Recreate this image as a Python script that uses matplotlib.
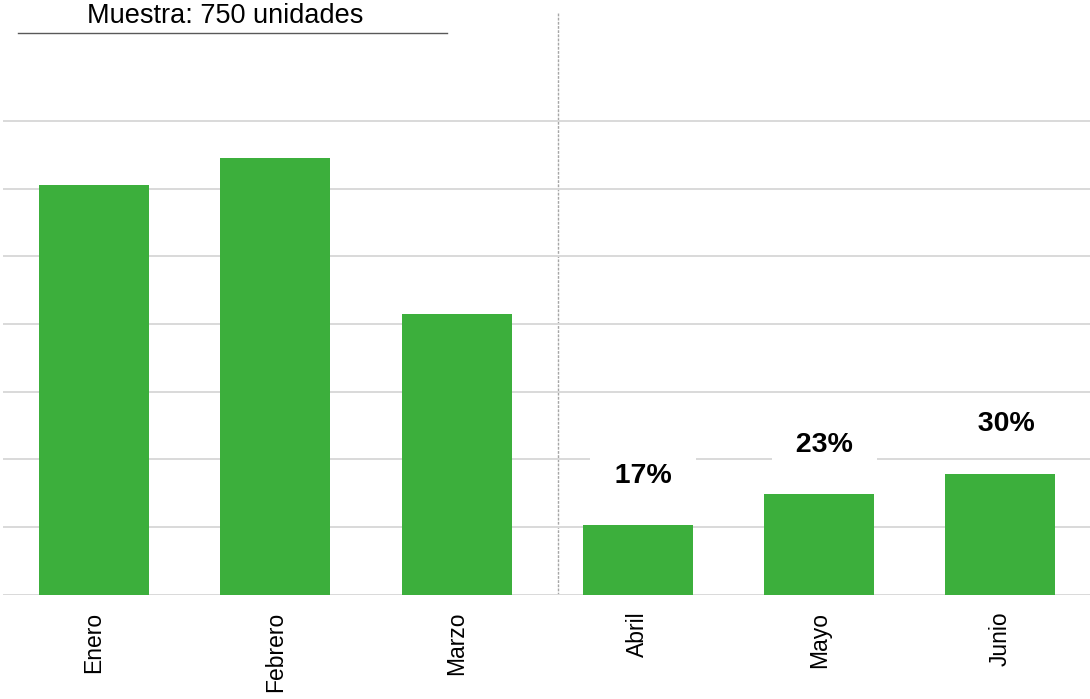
import numpy as np
import matplotlib
matplotlib.use("Agg")
import matplotlib.pyplot as plt

plt.rcParams["font.family"] = ["Liberation Sans", "DejaVu Sans"]

meses = ["Enero", "Febrero", "Marzo", "Abril", "Mayo", "Junio"]
valores = [60.6, 64.5, 41.5, 10.3, 14.9, 17.9]
etiquetas = {3: "17%", 4: "23%", 5: "30%"}
titulo = "Muestra: 750 unidades"

verde = "#3caf3c"

fig = plt.figure(figsize=(10.9, 6.99), dpi=100)
ax = fig.add_axes([0.003, 0.149, 0.998, 0.834])

x = np.arange(len(meses))
ax.bar(x, valores, width=0.607, color=verde, zorder=2)
ax.set_xlim(-0.5, 5.5)
ax.set_ylim(0, 86.1)

ax.set_yticks(np.arange(0, 80, 10))
ax.yaxis.grid(True, color="#d9d9d9", lw=1.4, zorder=0)
ax.tick_params(axis="y", left=False, labelleft=False)
ax.set_xticks(x)
ax.set_xticklabels(meses, rotation=90, fontsize=16.5)
ax.tick_params(axis="x", length=0, pad=12)
for s in ax.spines.values():
    s.set_visible(False)

# separador entre trimestres
ax.axvline(2.56, color="#a6a6a6", lw=1, ls=(0, (2, 1)), zorder=1)

for i, t in etiquetas.items():
    ax.text(x[i] + 0.03, valores[i] + 7.3, f"  {t}  ", ha="center", va="center",
            fontsize=20.5, fontweight="bold", zorder=3,
            bbox=dict(boxstyle="square,pad=0.3", fc="white", ec="none"))

fig.text(0.207, 0.977, titulo, ha="center", va="center", fontsize=19.5)
fig.add_artist(plt.Line2D([0.0165, 0.41], [0.953, 0.953], color="#595959", lw=1,
                          transform=fig.transFigure))

fig.savefig("out.png", dpi=100)
